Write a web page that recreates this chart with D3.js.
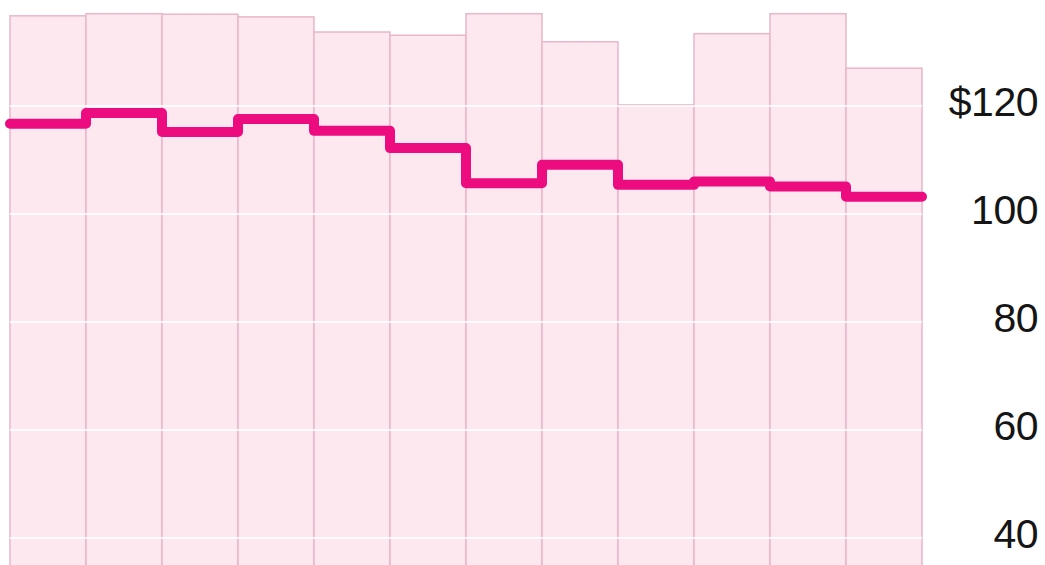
<!DOCTYPE html>
<html>
<head>
<meta charset="utf-8">
<script src="https://cdn.jsdelivr.net/npm/d3@7"></script>
<style>
  html, body { margin: 0; padding: 0; background: #fff; }
  svg { display: block; }
</style>
</head>
<body>
<div id="chart"></div>
<script>
// one bar per period, 12 periods
var periods = ["P1", "P2", "P3", "P4", "P5", "P6", "P7", "P8", "P9", "P10", "P11", "P12"];
var barValues = [136.7, 137.1, 137.0, 136.5, 133.7, 133.1, 137.1, 131.9, 120.2, 133.4, 137.1, 127.0];
var lineValues = [116.7, 118.7, 115.2, 117.6, 115.4, 112.2, 105.7, 109.1, 105.4, 106.0, 105.1, 103.2];
var tickValues = [40, 60, 80, 100, 120];

var width = 1045, height = 565;
var margin = {top: 0, right: 123, bottom: 0, left: 10};

var svg = d3.select("#chart")
    .append("svg")
    .attr("width", width)
    .attr("height", height);

var x = d3.scaleBand()
    .domain(periods)
    .range([margin.left, width - margin.right])
    .padding(0);

// 120 -> 106px, 40 -> 538px
var y = d3.scaleLinear()
    .domain([40, 120])
    .range([538, 106]);

//Bars, running off the bottom of the picture
svg.append("g")
    .selectAll("rect")
    .data(barValues)
    .enter()
    .append("rect")
    .attr("x", (d, i) => x(periods[i]))
    .attr("y", d => y(d))
    .attr("width", x.bandwidth())
    .attr("height", d => height + 20 - y(d))
    .attr("fill", "#fde8f0")
    .attr("stroke", "#eab6ca")
    .attr("stroke-width", 1.5);

//White gridlines over the bars
svg.append("g")
    .selectAll("line")
    .data(tickValues)
    .enter()
    .append("line")
    .attr("x1", margin.left)
    .attr("x2", width - margin.right)
    .attr("y1", d => y(d))
    .attr("y2", d => y(d))
    .attr("stroke", "#ffffff")
    .attr("stroke-opacity", 0.8)
    .attr("stroke-width", 2);

//Step line: a point at each bar's left edge, plus the right edge of the last bar
var pts = lineValues.map((v, i) => [x(periods[i]), y(v)]);
var last = periods.length - 1;
pts.push([x(periods[last]) + x.bandwidth(), y(lineValues[last])]);

var line = d3.line().curve(d3.curveStepAfter);
svg.append("path")
    .attr("d", line(pts))
    .attr("fill", "none")
    .attr("stroke", "#ec0c80")
    .attr("stroke-width", 10)
    .attr("stroke-linecap", "round")
    .attr("stroke-linejoin", "round");

//Right axis labels
var axis = d3.axisRight(y)
    .tickValues(tickValues)
    .tickSize(0)
    .tickFormat(d => d === 120 ? "$" + d : d);

var ax = svg.append("g")
    .attr("transform", "translate(" + (width - 7) + ",-4)")
    .call(axis);
ax.select(".domain").remove();
ax.selectAll("text")
    .attr("x", 0)
    .attr("text-anchor", "end")
    .attr("fill", "#151515")
    .style("font-family", "'Liberation Sans', Arial, sans-serif")
    .style("font-size", "41px")
    .style("letter-spacing", "-0.5px");
</script>
</body>
</html>
